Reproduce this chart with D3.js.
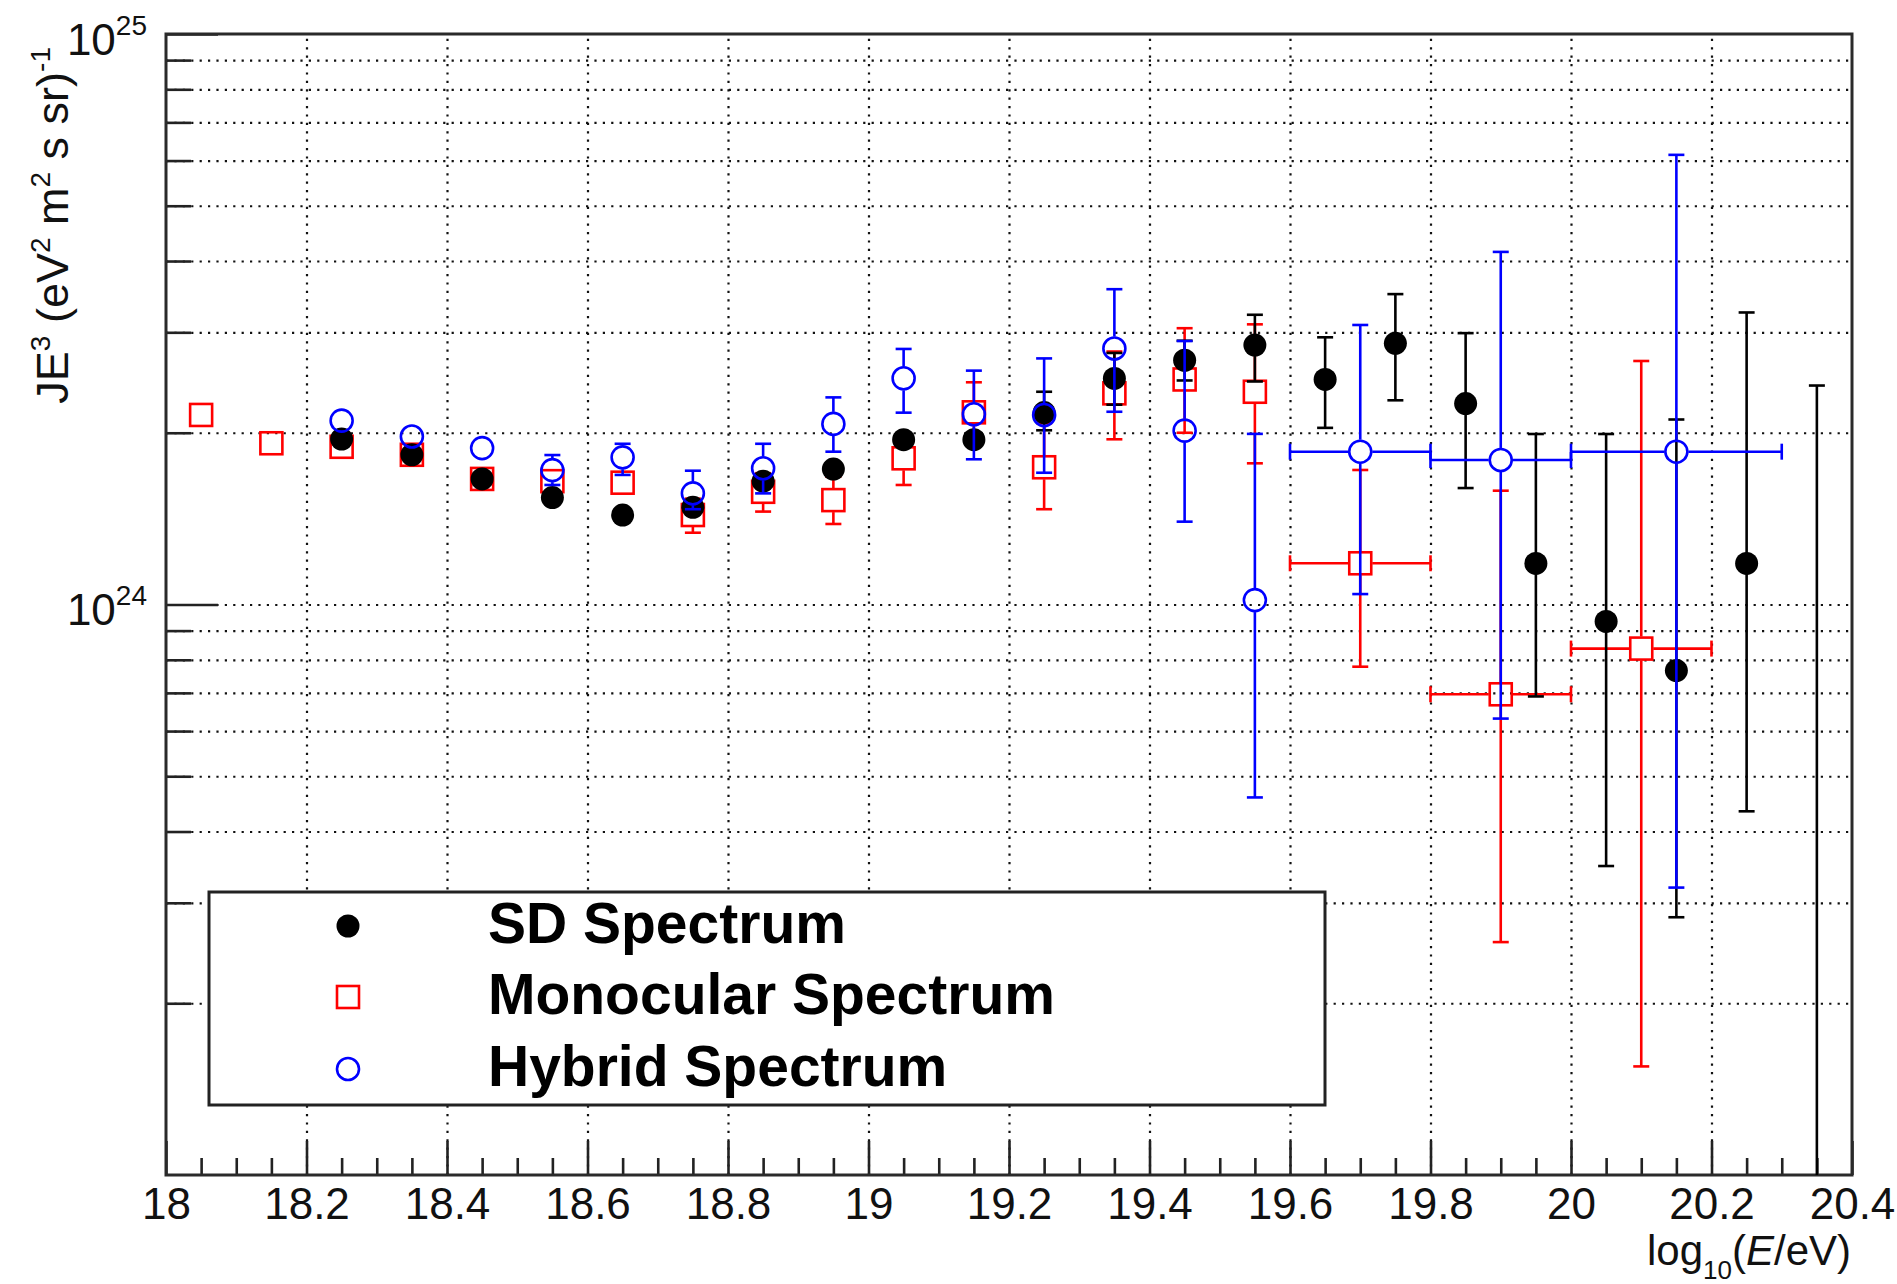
<!DOCTYPE html>
<html>
<head>
<meta charset="utf-8">
<script src="https://cdn.jsdelivr.net/npm/d3@7"></script>
<style>
  body { margin: 0; background: #fff; }
  text { font-family: "Liberation Sans", Arial, Helvetica, sans-serif; }
</style>
</head>
<body>
<div id="chart"></div>
<script>
// DATA (flux x E^3 in units of 1e24 eV^2 m^-2 s^-1 sr^-1)
//=====================
var sdX    = [18.25, 18.35, 18.45, 18.55, 18.65, 18.75, 18.85, 18.95, 19.05, 19.15, 19.25, 19.35, 19.45, 19.55, 19.65, 19.75, 19.85, 19.95, 20.05, 20.15, 20.25, 20.35];
var sdY    = [1.95, 1.83, 1.66, 1.54, 1.435, 1.48, 1.645, 1.727, 1.945, 1.945, 2.17, 2.49, 2.68, 2.85, 2.48, 2.87, 2.25, 1.18, 0.934, 0.766, 1.18, 0.05];
var sdLow  = [1.92, 1.80, 1.635, 1.51, 1.41, 1.45, 1.61, 1.69, 1.89, 1.87, 2.02, 2.24, 2.47, 2.46, 2.04, 2.28, 1.60, 0.69, 0.348, 0.283, 0.434, 0.01];
var sdHigh = [1.98, 1.86, 1.69, 1.57, 1.46, 1.51, 1.68, 1.77, 2.00, 2.02, 2.36, 2.76, 2.90, 3.22, 2.94, 3.50, 2.99, 1.99, 1.99, 2.11, 3.25, 2.42];

var monoX     = [18.05, 18.15, 18.25, 18.35, 18.45, 18.55, 18.65, 18.75, 18.85, 18.95, 19.05, 19.15, 19.25, 19.35, 19.45, 19.55, 19.7, 19.9, 20.1];
var monoY     = [2.149, 1.917, 1.89, 1.83, 1.66, 1.645, 1.635, 1.435, 1.576, 1.524, 1.804, 2.172, 1.74, 2.345, 2.48, 2.36, 1.181, 0.696, 0.837];
var monoLow   = [2.12, 1.89, 1.86, 1.80, 1.63, 1.61, 1.60, 1.336, 1.455, 1.384, 1.62, 1.917, 1.469, 1.948, 2.00, 1.768, 0.778, 0.256, 0.155];
var monoHigh  = [2.18, 1.94, 1.92, 1.86, 1.69, 1.68, 1.67, 1.533, 1.699, 1.675, 1.995, 2.452, 2.078, 2.776, 3.05, 3.098, 1.721, 1.583, 2.672];
var monoBinLo = [18.05, 18.15, 18.25, 18.35, 18.45, 18.55, 18.65, 18.75, 18.85, 18.95, 19.05, 19.15, 19.25, 19.35, 19.45, 19.55, 19.6, 19.8, 20.0];
var monoBinHi = [18.05, 18.15, 18.25, 18.35, 18.45, 18.55, 18.65, 18.75, 18.85, 18.95, 19.05, 19.15, 19.25, 19.35, 19.45, 19.55, 19.8, 20.0, 20.2];

var hybX     = [18.25, 18.35, 18.45, 18.55, 18.65, 18.75, 18.85, 18.95, 19.05, 19.15, 19.25, 19.35, 19.45, 19.55, 19.7, 19.9, 20.15];
var hybY     = [2.10, 1.97, 1.88, 1.72, 1.811, 1.566, 1.733, 2.073, 2.492, 2.155, 2.149, 2.81, 2.017, 1.018, 1.853, 1.792, 1.853];
var hybLow   = [2.07, 1.94, 1.85, 1.62, 1.687, 1.469, 1.566, 1.853, 2.169, 1.797, 1.702, 2.177, 1.397, 0.459, 1.043, 0.631, 0.319];
var hybHigh  = [2.13, 2.00, 1.91, 1.828, 1.913, 1.716, 1.913, 2.307, 2.805, 2.57, 2.70, 3.57, 2.896, 1.991, 3.09, 4.15, 6.14];
var hybBinLo = [18.25, 18.35, 18.45, 18.55, 18.65, 18.75, 18.85, 18.95, 19.05, 19.15, 19.25, 19.35, 19.45, 19.55, 19.6, 19.8, 20.0];
var hybBinHi = [18.25, 18.35, 18.45, 18.55, 18.65, 18.75, 18.85, 18.95, 19.05, 19.15, 19.25, 19.35, 19.45, 19.55, 19.8, 20.0, 20.3];

var xTickValues = [18, 18.2, 18.4, 18.6, 18.8, 19, 19.2, 19.4, 19.6, 19.8, 20, 20.2, 20.4];
var xTickLabels = ["18", "18.2", "18.4", "18.6", "18.8", "19", "19.2", "19.4", "19.6", "19.8", "20", "20.2", "20.4"];
var yMajorValues = [1, 10];
var yMajorExponents = ["24", "25"];
var yMinorValues = [0.2, 0.3, 0.4, 0.5, 0.6, 0.7, 0.8, 0.9, 2, 3, 4, 5, 6, 7, 8, 9];
var legendLabels = ["SD Spectrum", "Monocular Spectrum", "Hybrid Spectrum"];

// SETUP
//=====================
var svgWidth = 1897;
var svgHeight = 1284;
var margin = { top: 34, right: 45, bottom: 109, left: 166 };
var width = svgWidth - margin.left - margin.right;
var height = svgHeight - margin.top - margin.bottom;

var svg = d3.select("#chart")
    .append("svg")
    .attr("width", svgWidth)
    .attr("height", svgHeight)
    .style("display", "block");

svg.append("rect").attr("width", svgWidth).attr("height", svgHeight).attr("fill", "#fff");

var chartGroup = svg.append("g")
    .attr("transform", `translate(${margin.left}, ${margin.top})`);

var xLinearScale = d3.scaleLinear().domain([18, 20.4]).range([0, width]);
var yLogScale = d3.scaleLog().domain([0.1, 10]).range([height, 0]);

// GRID (dotted)
//=====================
var gridX = chartGroup.append("g")
    .attr("transform", `translate(0, ${height})`)
    .call(d3.axisBottom(xLinearScale).tickValues(xTickValues.slice(1, -1)).tickSize(-height).tickFormat(""));
var gridY = chartGroup.append("g")
    .call(d3.axisLeft(yLogScale).tickValues(yMinorValues.concat([1])).tickSize(-width).tickFormat(""));
[gridX, gridY].forEach(function(g) {
    g.select(".domain").remove();
    g.selectAll("line")
        .attr("stroke", "#111")
        .attr("stroke-width", 2.2)
        .attr("stroke-dasharray", "2.2,6.2");
});

// AXES (ticks inside the frame, ROOT style)
//=====================
var minorX = d3.range(0, 49).filter(i => i % 4 !== 0).map(i => 18 + i * 0.05);

var xMajor = chartGroup.append("g")
    .attr("transform", `translate(0, ${height})`)
    .call(d3.axisBottom(xLinearScale)
        .tickValues(xTickValues)
        .tickSize(-34)
        .tickPadding(13)
        .tickFormat((d, i) => xTickLabels[i]));
var xMinor = chartGroup.append("g")
    .attr("transform", `translate(0, ${height})`)
    .call(d3.axisBottom(xLinearScale).tickValues(minorX).tickSize(-17).tickFormat(""));

var yMajor = chartGroup.append("g")
    .call(d3.axisLeft(yLogScale)
        .tickValues(yMajorValues)
        .tickSize(-52)
        .tickPadding(19)
        .tickFormat(""));
var yMinor = chartGroup.append("g")
    .call(d3.axisLeft(yLogScale).tickValues(yMinorValues).tickSize(-25).tickFormat(""));

[xMajor, xMinor, yMajor, yMinor].forEach(function(g) {
    g.select(".domain").remove();
    g.selectAll("line").attr("stroke", "#222").attr("stroke-width", 2.6);
});

xMajor.selectAll("text")
    .attr("font-size", 44)
    .attr("fill", "#111");

// y labels as 10^n with superscript
yMajor.selectAll("text")
    .attr("fill", "#111")
    .attr("dy", 20)
    .each(function(d, i) {
        var t = d3.select(this);
        t.append("tspan").attr("font-size", 44).text("10");
        t.append("tspan").attr("font-size", 28).attr("dy", -20).text(yMajorExponents[i]);
    });

// frame
chartGroup.append("rect")
    .attr("width", width)
    .attr("height", height)
    .attr("fill", "none")
    .attr("stroke", "#2a2a2a")
    .attr("stroke-width", 3);

// DATA POINTS
//=====================
chartGroup.append("clipPath")
    .attr("id", "plotClip")
    .append("rect")
    .attr("width", width)
    .attr("height", height);

var plotGroup = chartGroup.append("g").attr("clip-path", "url(#plotClip)");

function buildRows(xs, ys, lows, highs, binLo, binHi) {
    return xs.map(function(x, i) {
        return {
            x: x, y: ys[i], lo: lows[i], hi: highs[i],
            xlo: binLo ? binLo[i] : x, xhi: binHi ? binHi[i] : x
        };
    });
}

var sdRows = buildRows(sdX, sdY, sdLow, sdHigh);
var monoRows = buildRows(monoX, monoY, monoLow, monoHigh, monoBinLo, monoBinHi);
var hybRows = buildRows(hybX, hybY, hybLow, hybHigh, hybBinLo, hybBinHi);

var cap = 8;

// error bars with a gap where the marker sits
function drawErrors(group, rows, color, gap) {
    var g = group.append("g")
        .attr("stroke", color)
        .attr("stroke-width", 2.6)
        .attr("fill", "none");
    rows.forEach(function(d) {
        var cx = xLinearScale(d.x);
        var cy = yLogScale(d.y);
        var top = yLogScale(d.hi);
        var bot = yLogScale(d.lo);
        if (top < cy - gap) {
            g.append("line").attr("x1", cx).attr("x2", cx).attr("y1", top).attr("y2", cy - gap);
            g.append("line").attr("x1", cx - cap).attr("x2", cx + cap).attr("y1", top).attr("y2", top);
        }
        if (bot > cy + gap) {
            g.append("line").attr("x1", cx).attr("x2", cx).attr("y1", cy + gap).attr("y2", bot);
            g.append("line").attr("x1", cx - cap).attr("x2", cx + cap).attr("y1", bot).attr("y2", bot);
        }
        if (d.xhi > d.xlo) {
            var left = xLinearScale(d.xlo);
            var right = xLinearScale(d.xhi);
            g.append("line").attr("x1", left).attr("x2", cx - gap).attr("y1", cy).attr("y2", cy);
            g.append("line").attr("x1", cx + gap).attr("x2", right).attr("y1", cy).attr("y2", cy);
            g.append("line").attr("x1", left).attr("x2", left).attr("y1", cy - cap).attr("y2", cy + cap);
            g.append("line").attr("x1", right).attr("x2", right).attr("y1", cy - cap).attr("y2", cy + cap);
        }
    });
}

// monocular (red open squares)
drawErrors(plotGroup, monoRows, "#ff0000", 12);
plotGroup.append("g").selectAll("rect")
    .data(monoRows)
    .enter()
    .append("rect")
    .attr("x", d => xLinearScale(d.x) - 11)
    .attr("y", d => yLogScale(d.y) - 11)
    .attr("width", 22)
    .attr("height", 22)
    .attr("fill", "none")
    .attr("stroke", "#ff0000")
    .attr("stroke-width", 2.6);

// SD (black full circles)
drawErrors(plotGroup, sdRows, "#000", 10);
plotGroup.append("g").selectAll("circle")
    .data(sdRows)
    .enter()
    .append("circle")
    .attr("cx", d => xLinearScale(d.x))
    .attr("cy", d => yLogScale(d.y))
    .attr("r", 11.5)
    .attr("fill", "#000");

// hybrid (blue open circles)
drawErrors(plotGroup, hybRows, "#0000ff", 12);
plotGroup.append("g").selectAll("circle")
    .data(hybRows)
    .enter()
    .append("circle")
    .attr("cx", d => xLinearScale(d.x))
    .attr("cy", d => yLogScale(d.y))
    .attr("r", 11)
    .attr("fill", "none")
    .attr("stroke", "#0000ff")
    .attr("stroke-width", 2.6);

// AXES TITLES
// ==================
var yTitle = svg.append("text")
    .attr("transform", "translate(68, 47) rotate(-90)")
    .attr("text-anchor", "end")
    .attr("font-size", 45)
    .attr("fill", "#111");
yTitle.append("tspan").text("JE");
yTitle.append("tspan").attr("font-size", 28).attr("dy", -18).text("3");
yTitle.append("tspan").attr("dy", 18).text(" (eV");
yTitle.append("tspan").attr("font-size", 28).attr("dy", -18).text("2");
yTitle.append("tspan").attr("dy", 18).text(" m");
yTitle.append("tspan").attr("font-size", 28).attr("dy", -18).text("2");
yTitle.append("tspan").attr("dy", 18).text(" s sr)");
yTitle.append("tspan").attr("font-size", 28).attr("dy", -18).text("-1");

var xTitle = svg.append("text")
    .attr("x", 1851)
    .attr("y", 1265)
    .attr("text-anchor", "end")
    .attr("font-size", 42)
    .attr("fill", "#111");
xTitle.append("tspan").text("log");
xTitle.append("tspan").attr("font-size", 26).attr("dy", 14).text("10");
xTitle.append("tspan").attr("dy", -14).text("(");
xTitle.append("tspan").attr("font-style", "italic").text("E");
xTitle.append("tspan").text("/eV)");

// LEGEND
// ==================
var legend = svg.append("g");
legend.append("rect")
    .attr("x", 209)
    .attr("y", 892)
    .attr("width", 1116)
    .attr("height", 213)
    .attr("fill", "#fff")
    .attr("stroke", "#222")
    .attr("stroke-width", 3);

var legendRowY = [926, 997, 1069];
legend.append("circle")
    .attr("cx", 348).attr("cy", legendRowY[0]).attr("r", 11.5).attr("fill", "#000");
legend.append("rect")
    .attr("x", 337).attr("y", legendRowY[1] - 11).attr("width", 22).attr("height", 22)
    .attr("fill", "none").attr("stroke", "#ff0000").attr("stroke-width", 2.6);
legend.append("circle")
    .attr("cx", 348).attr("cy", legendRowY[2]).attr("r", 11)
    .attr("fill", "none").attr("stroke", "#0000ff").attr("stroke-width", 2.6);

legend.selectAll("text.leg")
    .data(legendLabels)
    .enter()
    .append("text")
    .attr("class", "leg")
    .attr("x", 488)
    .attr("y", (d, i) => legendRowY[i] + 17)
    .attr("font-size", 57)
    .attr("font-weight", "700")
    .attr("fill", "#000")
    .text(d => d);
</script>
</body>
</html>
